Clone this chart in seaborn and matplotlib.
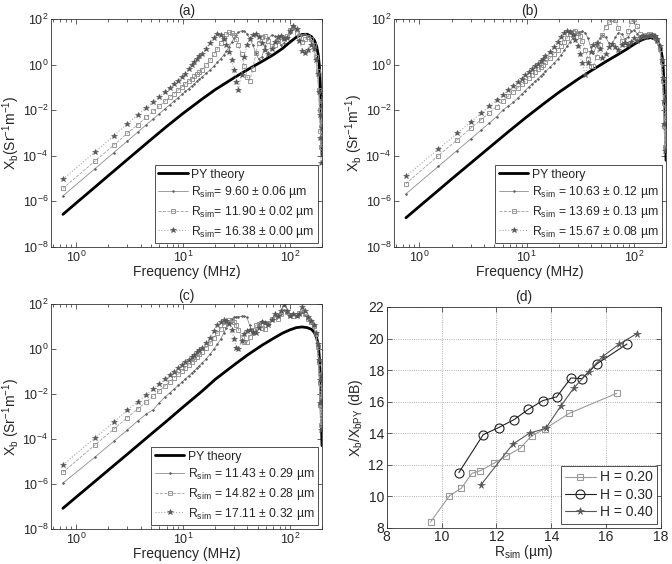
import numpy as np
import matplotlib
matplotlib.use("Agg")
import matplotlib.pyplot as plt
import seaborn as sns
from matplotlib.ticker import FixedLocator, LogLocator, NullLocator, NullFormatter

sns.set_style("ticks")
plt.rcParams["font.family"] = ["Liberation Sans", "DejaVu Sans"]
plt.rcParams["mathtext.fontset"] = "custom"
plt.rcParams["mathtext.rm"] = "Liberation Sans"
plt.rcParams["mathtext.it"] = "Liberation Sans:italic"
plt.rcParams["mathtext.default"] = "regular"
plt.rcParams["axes.linewidth"] = 0.6
plt.rcParams["axes.edgecolor"] = "#333333"

# frequency grid of the simulations (MHz)
freq = [0.75, 1.5, 2.25, 3.0, 3.75, 4.5, 5.25, 6.0, 6.75, 7.5,
        8.25, 9.0, 9.75, 10.5, 11.25, 12.0, 12.75, 13.5, 14.25, 15.0,
        16.5, 18.0, 19.5, 21.0, 22.5, 24.0, 25.5, 27.0, 28.5, 30.0,
        31.5, 33.0, 35.25, 37.5, 39.75, 42.0, 45.0, 48.0, 51.0, 54.75,
        58.5, 63.0, 67.5, 72.0, 77.25, 82.5, 88.5, 94.5, 101.25, 108.0,
        115.5, 123.0, 131.25, 139.5, 148.5, 157.5, 166.5, 175.5, 181.5, 186.0,
        189.75, 192.75, 195.75, 198.0, 199.5]
# frequency grid of the PY theory curves (MHz)
freq_py = [0.75, 1, 1.5, 2, 3, 5, 7, 10, 15, 20, 30, 40, 55, 70, 85, 100, 115,
           130, 145, 160, 170, 178, 184, 188, 191, 194, 196, 198, 200]

# log10 of backscatter coefficient
# (a) H = 0.20
a_py = [-6.57, -6.07, -5.37, -4.87, -4.17, -3.29, -2.72, -2.14, -1.52, -1.10, -0.58, -0.23, 0.14, 0.43,
        0.70, 0.98, 1.20, 1.32, 1.33, 1.22, 1.05, 0.80, 0.45, 0.05, -0.45, -1.20, -1.90, -3.00, -4.00]
a_r1 = [-5.76, -4.56, -3.86, -3.36, -2.97, -2.65, -2.38, -2.15, -1.95, -1.76,
        -1.60, -1.45, -1.31, -1.18, -1.06, -0.95, -0.84, -0.74, -0.64, -0.55,
        -0.38, -0.22, -0.06, 0.10, 0.26, 0.42, 0.60, 0.78, 0.98, 1.15,
        1.30, 1.42, 1.48, 1.46, 1.35, 1.15, 0.85, 0.50, 0.25, 0.35,
        0.80, 1.15, 1.30, 1.25, 1.05, 0.85, 0.95, 1.20, 1.40, 1.55,
        1.50, 1.35, 1.30, 1.35, 1.25, 1.05, 0.80, 0.30, -0.35, -1.10,
        -1.90, -2.70, -3.40, -2.30, -1.40]
a_r2 = [-5.43, -4.23, -3.53, -3.02, -2.64, -2.32, -2.05, -1.82, -1.62, -1.43,
        -1.27, -1.12, -0.98, -0.85, -0.73, -0.62, -0.51, -0.41, -0.31, -0.22,
        -0.02, 0.20, 0.45, 0.70, 0.95, 1.18, 1.35, 1.42, 1.40, 1.28,
        1.10, 0.85, 0.45, -0.05, -0.55, -0.70, -0.20, 0.50, 0.95, 1.20,
        1.25, 1.05, 0.80, 0.85, 1.05, 1.20, 1.15, 1.25, 1.50, 1.65,
        1.40, 1.20, 1.00, 1.10, 1.20, 1.10, 0.85, 0.35, -0.30, -1.10,
        -2.00, -2.90, -3.60, -2.50, -1.60]
a_r3 = [-5.03, -3.83, -3.12, -2.60, -2.22, -1.90, -1.64, -1.41, -1.20, -1.01,
        -0.85, -0.70, -0.55, -0.40, -0.20, -0.02, 0.12, 0.25, 0.37, 0.48,
        0.70, 0.95, 1.18, 1.35, 1.30, 1.12, 0.86, 0.56, 0.20, -0.25,
        -0.75, -1.10, -0.45, 0.35, 0.85, 1.10, 1.28, 1.32, 1.20, 0.95,
        0.62, 0.45, 0.70, 1.00, 1.20, 1.25, 1.10, 1.15, 1.45, 1.70,
        1.55, 1.05, 0.60, 0.50, 0.65, 0.85, 0.70, 0.20, -0.40, -1.20,
        -2.20, -3.20, -4.30, -2.80, -1.80]
a_labels = ["9.60 ± 0.06", "11.90 ± 0.02", "16.38 ± 0.00"]

# (b) H = 0.30
b_py = [-6.72, -6.22, -5.52, -5.02, -4.33, -3.46, -2.89, -2.30, -1.66, -1.22, -0.65, -0.27, 0.13, 0.42,
        0.66, 0.88, 1.05, 1.15, 1.18, 1.10, 0.95, 0.70, 0.35, -0.10, -0.70, -1.60, -2.40, -3.40, -4.20]
b_r1 = [-5.67, -4.47, -3.77, -3.27, -2.88, -2.56, -2.29, -2.00, -1.82, -1.66,
        -1.48, -1.30, -1.14, -0.98, -0.86, -0.74, -0.62, -0.51, -0.40, -0.30,
        -0.12, 0.06, 0.24, 0.42, 0.62, 0.82, 1.00, 1.16, 1.30, 1.40,
        1.44, 1.45, 1.40, 1.15, 0.75, 0.50, 0.80, 1.15, 1.30, 1.20,
        0.95, 0.90, 1.20, 1.40, 1.35, 1.10, 1.20, 1.45, 1.50, 1.35,
        1.25, 1.30, 1.30, 1.25, 1.25, 1.15, 1.00, 0.60, 0.00, -0.80,
        -1.80, -2.80, -3.80, -2.70, -1.60]
b_r2 = [-5.22, -4.00, -3.30, -2.80, -2.42, -2.11, -1.84, -1.60, -1.39, -1.20,
        -1.03, -0.87, -0.72, -0.58, -0.45, -0.33, -0.21, -0.10, 0.00, 0.10,
        0.28, 0.46, 0.64, 0.82, 1.00, 1.18, 1.32, 1.42, 1.45, 1.40,
        1.25, 1.02, 0.65, 0.25, -0.05, -0.05, 0.35, 0.85, 1.30, 1.65,
        1.85, 1.98, 1.95, 1.60, 1.05, 0.90, 1.45, 1.90, 1.98, 1.70,
        1.35, 1.25, 1.30, 1.35, 1.30, 1.20, 1.05, 0.70, 0.10, -0.70,
        -1.70, -2.70, -3.60, -2.40, -1.40]
b_r3 = [-4.90, -3.71, -3.02, -2.52, -2.14, -1.83, -1.56, -1.33, -1.13, -0.95,
        -0.78, -0.62, -0.47, -0.33, -0.20, -0.08, 0.04, 0.15, 0.26, 0.36,
        0.56, 0.78, 1.00, 1.22, 1.40, 1.48, 1.44, 1.30, 1.08, 0.80,
        0.45, 0.05, -0.45, 0.05, 0.55, 0.85, 0.95, 0.70, 0.30, 0.45,
        0.75, 0.90, 0.75, 0.65, 0.85, 0.95, 0.85, 1.00, 1.15, 1.05,
        1.15, 1.25, 1.20, 1.25, 1.30, 1.25, 1.10, 0.80, 0.20, -0.60,
        -1.60, -2.60, -3.80, -2.60, -1.50]
b_labels = ["10.63 ± 0.12", "13.69 ± 0.13", "15.67 ± 0.08"]

# (c) H = 0.40
c_py = [-7.08, -6.58, -5.88, -5.38, -4.68, -3.79, -3.21, -2.58, -1.88, -1.35, -0.71, -0.27, 0.17, 0.47,
        0.70, 0.85, 0.95, 0.98, 0.95, 0.87, 0.72, 0.50, 0.20, -0.25, -0.80, -1.60, -2.50, -3.50, -4.30]
c_r1 = [-5.96, -4.80, -4.10, -3.60, -3.20, -2.90, -2.70, -2.38, -2.14, -1.95,
        -1.78, -1.62, -1.47, -1.33, -1.20, -1.08, -0.96, -0.85, -0.74, -0.63,
        -0.43, -0.22, 0.00, 0.22, 0.45, 0.70, 0.95, 1.15, 1.32, 1.42,
        1.44, 1.44, 1.45, 1.45, 1.40, 1.05, 0.65, 0.80, 1.10, 1.25,
        1.20, 1.10, 1.30, 1.50, 1.40, 1.55, 1.75, 1.60, 1.50, 1.55,
        1.45, 1.55, 1.65, 1.50, 1.35, 1.20, 1.00, 0.65, 0.10, -0.70,
        -1.60, -2.60, -3.40, -2.30, -1.20]
c_r2 = [-5.48, -4.26, -3.56, -3.05, -2.67, -2.35, -2.08, -1.85, -1.64, -1.45,
        -1.28, -1.12, -0.97, -0.83, -0.70, -0.58, -0.46, -0.35, -0.24, -0.14,
        0.05, 0.25, 0.48, 0.70, 0.90, 1.08, 1.20, 1.27, 1.28, 1.20,
        1.05, 0.85, 0.55, 0.32, 0.30, 0.55, 0.85, 1.05, 1.10, 0.95,
        0.90, 1.15, 1.35, 1.40, 1.35, 1.55, 1.80, 1.65, 1.50, 1.45,
        1.50, 1.60, 1.70, 1.55, 1.35, 1.20, 1.00, 0.65, 0.10, -0.60,
        -1.50, -2.50, -3.40, -2.20, -1.10]
c_r3 = [-5.15, -3.95, -3.25, -2.72, -2.35, -2.04, -1.78, -1.55, -1.35, -1.17,
        -1.01, -0.86, -0.72, -0.59, -0.47, -0.36, -0.25, -0.15, -0.05, 0.05,
        0.25, 0.50, 0.80, 1.05, 1.20, 1.27, 1.25, 1.12, 0.85, 0.45,
        0.05, 0.00, 0.35, 0.65, 0.80, 0.85, 0.75, 0.70, 0.95, 1.20,
        1.15, 1.05, 1.30, 1.55, 1.45, 1.70, 1.95, 1.70, 1.45, 1.55,
        1.45, 1.55, 1.85, 1.70, 1.40, 1.25, 1.05, 0.70, 0.20, -0.50,
        -1.40, -2.40, -3.60, -2.30, -1.20]
c_labels = ["11.43 ± 0.29", "14.82 ± 0.28", "17.11 ± 0.32"]

# (d) enhancement vs radius
r_h20 = [9.60, 10.29, 10.72, 11.11, 11.42, 11.90, 12.35, 12.88, 13.28, 13.78, 14.65, 16.38]
db_h20 = [8.36, 10.03, 10.50, 11.45, 11.62, 12.08, 12.53, 13.06, 13.82, 14.28, 15.25, 16.52]
r_h30 = [10.63, 11.52, 12.08, 12.64, 13.16, 13.69, 14.20, 14.72, 15.12, 15.67, 16.76]
db_h30 = [11.49, 13.90, 14.35, 14.85, 15.50, 16.06, 16.30, 17.50, 17.45, 18.40, 19.65]
r_h40 = [11.43, 12.60, 13.21, 13.80, 14.34, 14.82, 15.36, 15.87, 16.48, 17.11]
db_h40 = [10.70, 13.30, 14.00, 14.30, 15.70, 16.85, 17.90, 18.85, 19.65, 20.30]
h_labels = ["H = 0.20", "H = 0.30", "H = 0.40"]

sim_styles = [
    dict(color="#8c8c8c", ls="-", lw=0.6, marker=".", ms=2.5, mfc="#606060", mec="#606060", mew=0.5),
    dict(color="#a0a0a0", ls="--", lw=0.6, marker="s", ms=2.6, mfc="none", mec="#888888", mew=0.6),
    dict(color="#a8a8a8", ls=":", lw=0.8, marker="*", ms=4, mfc="#555555", mec="#555555", mew=0.4),
]

fig = plt.figure(figsize=(6.72, 5.64), dpi=100)
ax_a = fig.add_axes([0.0759, 0.5621, 0.4033, 0.4043])
ax_b = fig.add_axes([0.5863, 0.5621, 0.4048, 0.4043])
ax_c = fig.add_axes([0.0759, 0.0621, 0.4033, 0.3989])
ax_d = fig.add_axes([0.5754, 0.0644, 0.4082, 0.3913])


def spectrum_panel(ax, py, sims, labels, title, ylab, eq):
    sns.lineplot(x=freq_py, y=10 ** np.array(py), ax=ax, color="black", lw=2,
                 sort=False, estimator=None, label="PY theory")
    for vals, lab, st in zip(sims, labels, sim_styles):
        sns.lineplot(x=freq, y=10 ** np.array(vals), ax=ax, sort=False, estimator=None,
                     label=r"R$_{\rm sim}$" + eq + lab + " µm", **st)
    ax.set_xscale("log")
    ax.set_yscale("log")
    ax.set_xlim(0.58, 200)
    ax.set_ylim(1e-8, 1e2)
    ax.yaxis.set_major_locator(FixedLocator([1e-8, 1e-6, 1e-4, 1e-2, 1e0, 1e2]))
    ax.yaxis.set_minor_locator(NullLocator())
    ax.xaxis.set_major_locator(FixedLocator([1, 10, 100]))
    ax.xaxis.set_minor_locator(LogLocator(base=10, subs=np.arange(2, 10)))
    ax.xaxis.set_minor_formatter(NullFormatter())
    ax.tick_params(which="both", direction="in", top=True, right=True, labelsize=9,
                   width=0.5, pad=2)
    ax.tick_params(which="major", length=3.5)
    ax.tick_params(which="minor", length=2)
    ax.set_xlabel("Frequency (MHz)", fontsize=10, labelpad=0)
    ax.set_ylabel(ylab, fontsize=10, labelpad=0)
    ax.set_title(title, fontsize=10, pad=3)
    leg = ax.legend(loc="lower right", fontsize=8.8, frameon=True, fancybox=False,
                    edgecolor="#333333", framealpha=1, borderaxespad=0.3,
                    handlelength=2.4, labelspacing=0.3, borderpad=0.3, handletextpad=0.3)
    leg.get_frame().set_linewidth(0.6)


spectrum_panel(ax_a, a_py, [a_r1, a_r2, a_r3], a_labels, "(a)",
               r"X$_{\rm b}$(Sr$^{-1}$m$^{-1}$)", "= ")
spectrum_panel(ax_b, b_py, [b_r1, b_r2, b_r3], b_labels, "(b)",
               r"X$_{\rm b}$ (Sr$^{-1}$m$^{-1}$)", " = ")
spectrum_panel(ax_c, c_py, [c_r1, c_r2, c_r3], c_labels, "(c)",
               r"X$_{\rm b}$ (Sr$^{-1}$m$^{-1}$)", " = ")

# (d)
d_styles = [
    dict(color="#9a9a9a", lw=0.8, marker="s", ms=5, mfc="none", mec="#9a9a9a", mew=0.8),
    dict(color="#222222", lw=0.8, marker="o", ms=6.5, mfc="none", mec="#222222", mew=0.8),
    dict(color="#555555", lw=0.8, marker="*", ms=5.5, mfc="#555555", mec="#555555", mew=0.4),
]
for rx, dy, lab, st in zip([r_h20, r_h30, r_h40], [db_h20, db_h30, db_h40], h_labels, d_styles):
    sns.lineplot(x=rx, y=dy, ax=ax_d, sort=False, estimator=None, label=lab, **st)
ax_d.set_xlim(8, 18)
ax_d.set_ylim(8, 22)
ax_d.set_xticks([8, 10, 12, 14, 16, 18])
ax_d.set_yticks([8, 10, 12, 14, 16, 18, 20, 22])
ax_d.grid(True, ls=":", color="#999999", lw=0.6)
ax_d.tick_params(direction="in", top=True, right=True, labelsize=10, width=0.5,
                 length=3.5, pad=2)
ax_d.set_xlabel(r"R$_{\rm sim}$ (µm)", fontsize=10, labelpad=-1)
ax_d.set_ylabel(r"X$_{\rm b}$/X$_{\rm bPY}$ (dB)", fontsize=10, labelpad=2)
ax_d.set_title("(d)", fontsize=10, pad=4)
leg = ax_d.legend(loc="lower right", fontsize=10, frameon=True, fancybox=False,
                  edgecolor="#333333", framealpha=1, borderaxespad=0.3,
                  handlelength=2.2, labelspacing=0.25, borderpad=0.3, handletextpad=0.3)
leg.get_frame().set_linewidth(0.6)

fig.savefig("out.png", dpi=100)
